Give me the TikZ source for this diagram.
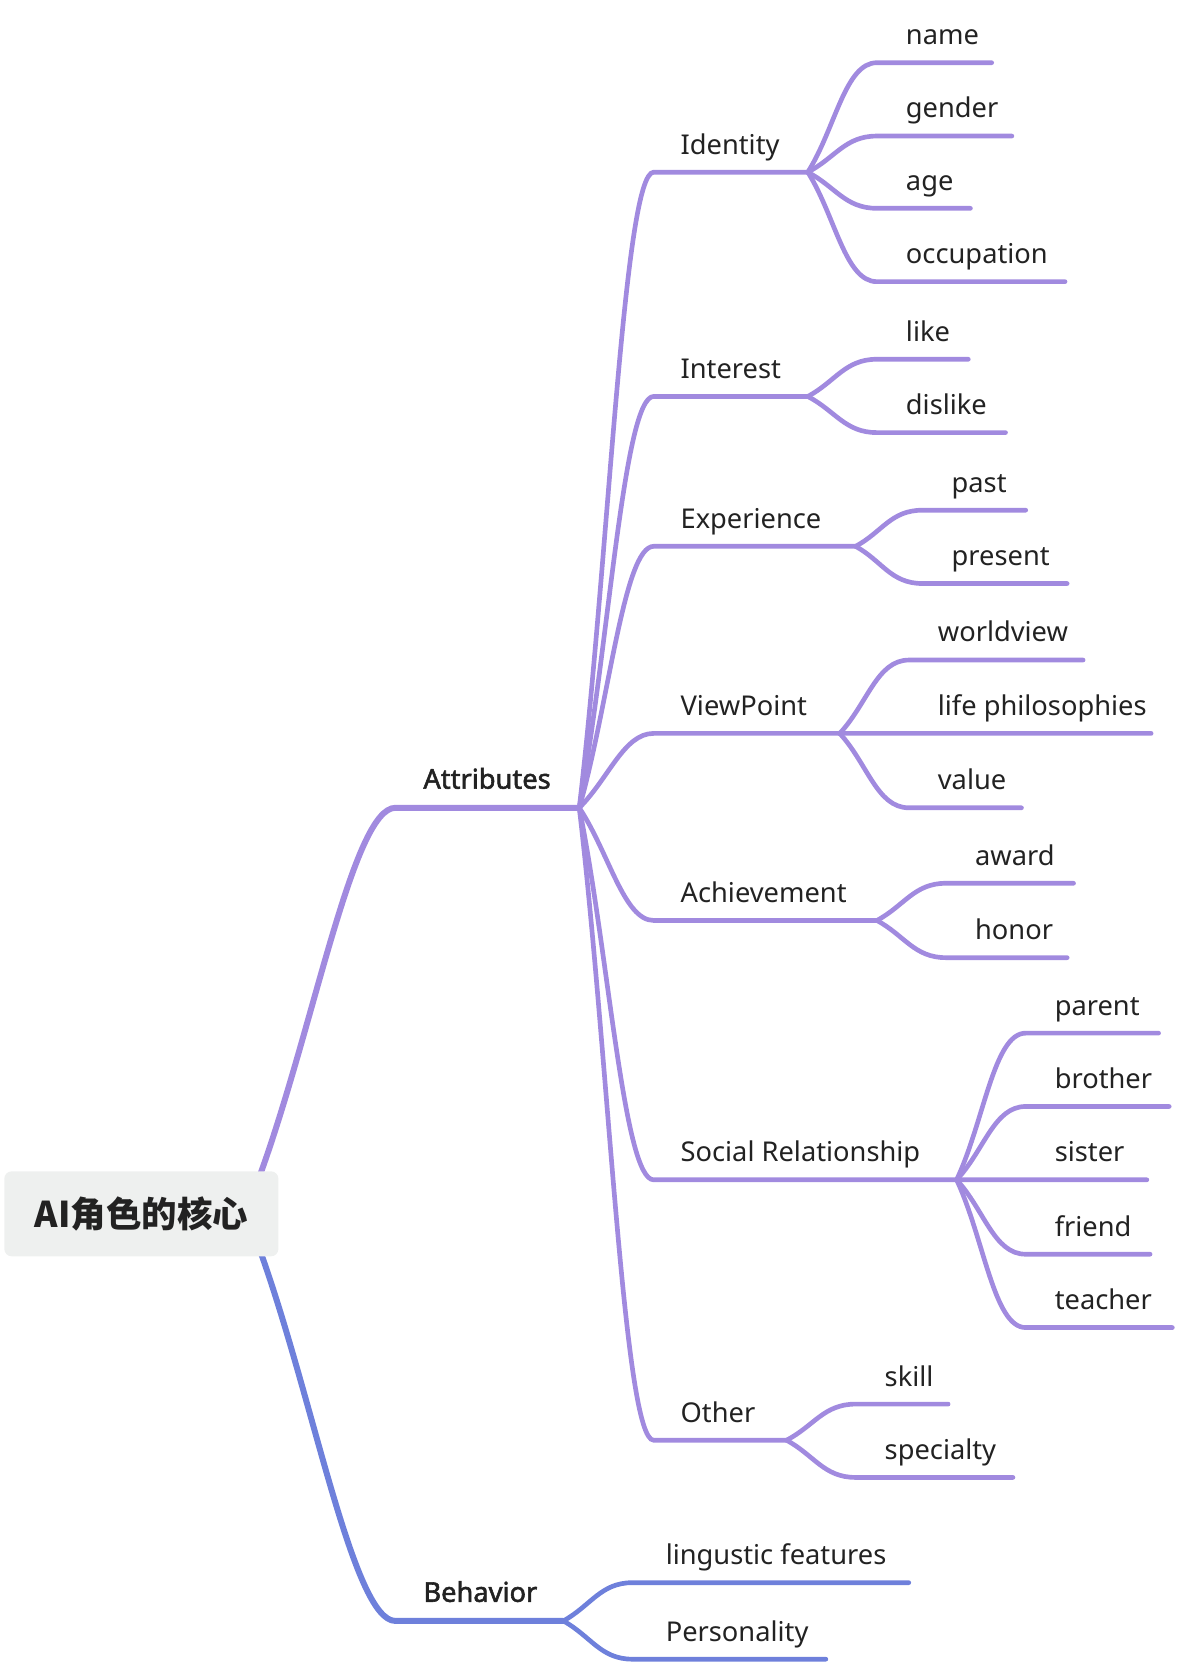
\documentclass[tikz,border=0pt]{standalone}
\usepackage{fontspec}
\setmainfont{Noto Sans}[BoldFont={Noto Sans},BoldFeatures={FakeBold=2}]
\newfontfamily\cjk{Noto Sans CJK SC}
\usetikzlibrary{calc,positioning}
\definecolor{attrpurple}{HTML}{A18ADF}
\definecolor{behavblue}{HTML}{6E80DB}
\definecolor{rootgray}{HTML}{EEF0EF}
\definecolor{inkdark}{HTML}{222222}

\begin{document}
\begin{tikzpicture}[x=0.02cm,y=-0.02cm,
	lbl/.style={anchor=base west,inner sep=0pt,text=inkdark,font=\fontsize{14.6}{17}\selectfont},
	toplbl/.style={lbl,font=\fontsize{14.6}{17}\selectfont\bfseries},
	trunk/.style={line width=3.2pt,line cap=round},
	twig/.style={line width=2.5pt,line cap=round,attrpurple},
	rootbox/.style={fill=rootgray,rounded corners=4pt,minimum width=5.16cm,minimum height=1.6cm,
		text=inkdark,font=\fontsize{19}{22}\selectfont\cjk\bfseries}]
	\useasboundingbox (0,0) rectangle (1110,1574);

	%main branches
	\coordinate (root-a) at (243,1110);
	\coordinate (root-b) at (243,1172);
	\coordinate (attr-s) at (372,760);
	\coordinate (attr-e) at (545,760);
	\coordinate (behav-s) at (372,1525);
	\coordinate (behav-e) at (530,1525);
	\draw[trunk,attrpurple] (root-a) .. controls ($(root-a)!0.4!(attr-s)$) and +(-40,0) .. (attr-s) -- (attr-e);
	\draw[trunk,behavblue] (root-b) .. controls ($(root-b)!0.4!(behav-s)$) and +(-40,0) .. (behav-s) -- (behav-e);
	\node[toplbl] (attr) at (398,742) {Attributes};
	\node[toplbl] (behav) at (398,1507) {Behavior};

	%children of Attributes
	\foreach \kid/\txt/\y/\xe in {identity/Identity/162/760, interest/Interest/373/760,
		experience/Experience/514/805, viewpoint/ViewPoint/690/790,
		achievement/Achievement/866/825, social/Social Relationship/1110/900, other/Other/1355/740}{
		\coordinate (\kid-s) at (615,\y);
		\coordinate (\kid-e) at (\xe,\y);
		\node[lbl] (\kid) at (640,\y-17) {\txt};
		\draw[twig] (attr-e) .. controls ($(attr-e)!0.4!(\kid-s)$) and +(-28,0) .. (\kid-s) -- (\kid-e);
	}

	%leaves
	\foreach \up/\kid/\txt/\y/\xs/\xe in {identity/name/name/59/825/933, identity/gender/gender/128/825/952,
		identity/age/age/196/825/913, identity/occupation/occupation/265/825/1002,
		interest/like/like/338/825/911, interest/dislike/dislike/407/825/946,
		experience/past/past/480/868/965, experience/present/present/549/868/1004,
		viewpoint/worldview/worldview/621/855/1019, viewpoint/lifephil/life philosophies/690/855/1083,
		viewpoint/value/value/760/855/961,
		achievement/award/award/831/890/1010, achievement/honor/honor/901/890/1004,
		social/parent/parent/972/965/1090, social/brother/brother/1041/965/1100,
		social/sister/sister/1110/965/1079, social/friend/friend/1180/965/1082,
		social/teacher/teacher/1249/965/1103,
		other/skill/skill/1321/805/892, other/specialty/specialty/1390/805/953}{
		\coordinate (\kid-s) at (\xs,\y);
		\coordinate (\kid-e) at (\xe,\y);
		\node[lbl] (\kid) at (\xs+27,\y-17) {\txt};
		\draw[twig] (\up-e) .. controls ($(\up-e)!0.4!(\kid-s)$) and +(-30,0) .. (\kid-s) -- (\kid-e);
	}

	%children of Behavior
	\foreach \kid/\txt/\y/\xe in {lingustic/lingustic features/1489/855, personality/Personality/1561/777}{
		\coordinate (\kid-s) at (595,\y);
		\coordinate (\kid-e) at (\xe,\y);
		\node[lbl] (\kid) at (626,\y-17) {\txt};
		\draw[twig,behavblue] (behav-e) .. controls ($(behav-e)!0.4!(\kid-s)$) and +(-30,0) .. (\kid-s) -- (\kid-e);
	}

	%root
	\node[rootbox] (root) at (133,1142) {AI角色的核心};
\end{tikzpicture}
\end{document}
